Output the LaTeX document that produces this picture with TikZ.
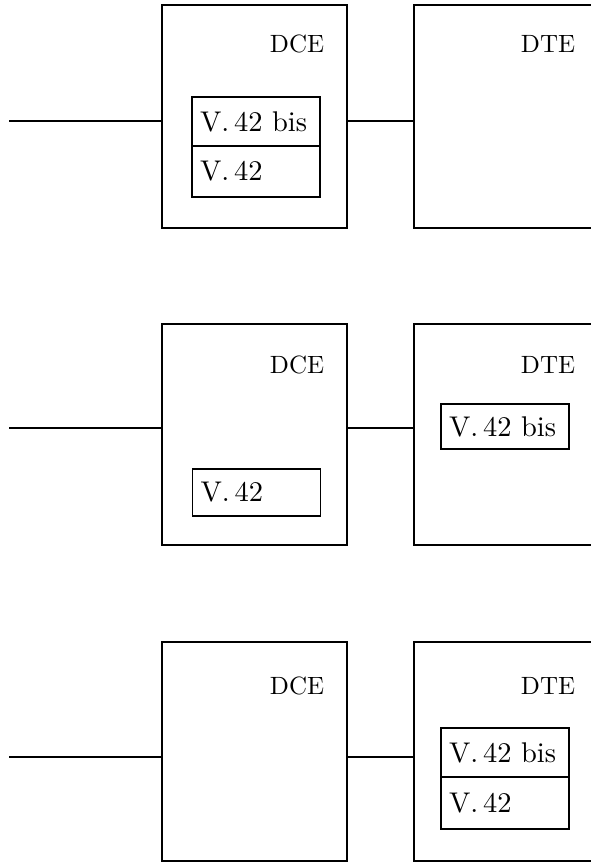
\documentclass[tikz,border=0pt]{standalone}
\usepackage{fontspec}
\setmainfont{lmroman10-regular}[Extension=.otf]
\usetikzlibrary{positioning}
\tikzset{
  unitbox/.style={draw, line width=1.2pt, rectangle, inner sep=0pt, outer sep=0pt},
  dcebox/.style={unitbox, minimum width=185pt},
  dtebox/.style={unitbox, minimum width=226pt},
  unitlabel/.style={inner sep=0pt, font=\fontsize{25}{29}\selectfont},
  protobox/.style={draw, line width=1.2pt, outer sep=0pt, inner xsep=8pt, inner ysep=0pt,
    text width=112pt, minimum height=49pt, align=left, font=\fontsize{28.5}{32}\selectfont},
  wire/.style={line width=1.2pt}
}
\begin{document}
\begin{tikzpicture}[x=1pt, y=-1pt]
                            \useasboundingbox (0,0) rectangle (591,862);
                            \clip (0,0) rectangle (591,862);

                            % Case 1: V.42 bis and V.42 in the DCE
                            \node [dcebox, minimum height=223pt] (dce1) at (254.5,116.5) {};%
                            \node [dtebox, minimum height=223pt] (dte1) at (527.0,116.5) {};%
                            \node [unitlabel] (dcename1) at (297.0,44.0) {DCE};%
                            \node [unitlabel] (dtename1) at (548.0,44.0) {DTE};%
                            \node [protobox] (bis1) at (256.0,121.5) {V.\,42 bis};%
                            \node [protobox, minimum height=51pt, below=0pt of bis1] (base1) {V.\,42};%

                            % Drawing line to DCE and DCE DTE
                            \coordinate (line1) at (9.0,121.0);%
                            \draw [wire] (line1) -- (line1 -| dce1.west);%
                            \draw [wire] (dce1.east |- line1) -- (dte1.west |- line1);%

                            % Case 2: V.42 in the DCE, V.42 bis in the DTE
                            \node [dcebox, minimum height=221pt] (dce2) at (254.5,434.5) {};%
                            \node [dtebox, minimum height=221pt] (dte2) at (527.0,434.5) {};%
                            \node [unitlabel] (dcename2) at (297.0,365.0) {DCE};%
                            \node [unitlabel] (dtename2) at (548.0,365.0) {DTE};%
                            \node [protobox, minimum height=47pt] (base2) at (256.5,492.5) {V.\,42};%
                            \node [protobox, minimum height=45pt] (bis2) at (505.0,426.5) {V.\,42 bis};%

                            % Drawing line to DCE and DCE DTE
                            \coordinate (line2) at (9.0,428.0);%
                            \draw [wire] (line2) -- (line2 -| dce2.west);%
                            \draw [wire] (dce2.east |- line2) -- (dte2.west |- line2);%

                            % Case 3: V.42 bis and V.42 in the DTE
                            \node [dcebox, minimum height=219pt] (dce3) at (254.5,751.5) {};%
                            \node [dtebox, minimum height=219pt] (dte3) at (527.0,751.5) {};%
                            \node [unitlabel] (dcename3) at (297.0,686.0) {DCE};%
                            \node [unitlabel] (dtename3) at (548.0,686.0) {DTE};%
                            \node [protobox] (bis3) at (505.0,752.5) {V.\,42 bis};%
                            \node [protobox, minimum height=52pt, below=0pt of bis3] (base3) {V.\,42};%

                            % Drawing line to DCE and DCE DTE
                            \coordinate (line3) at (9.0,757.0);%
                            \draw [wire] (line3) -- (line3 -| dce3.west);%
                            \draw [wire] (dce3.east |- line3) -- (dte3.west |- line3);%
                        \end{tikzpicture}
\end{document}
